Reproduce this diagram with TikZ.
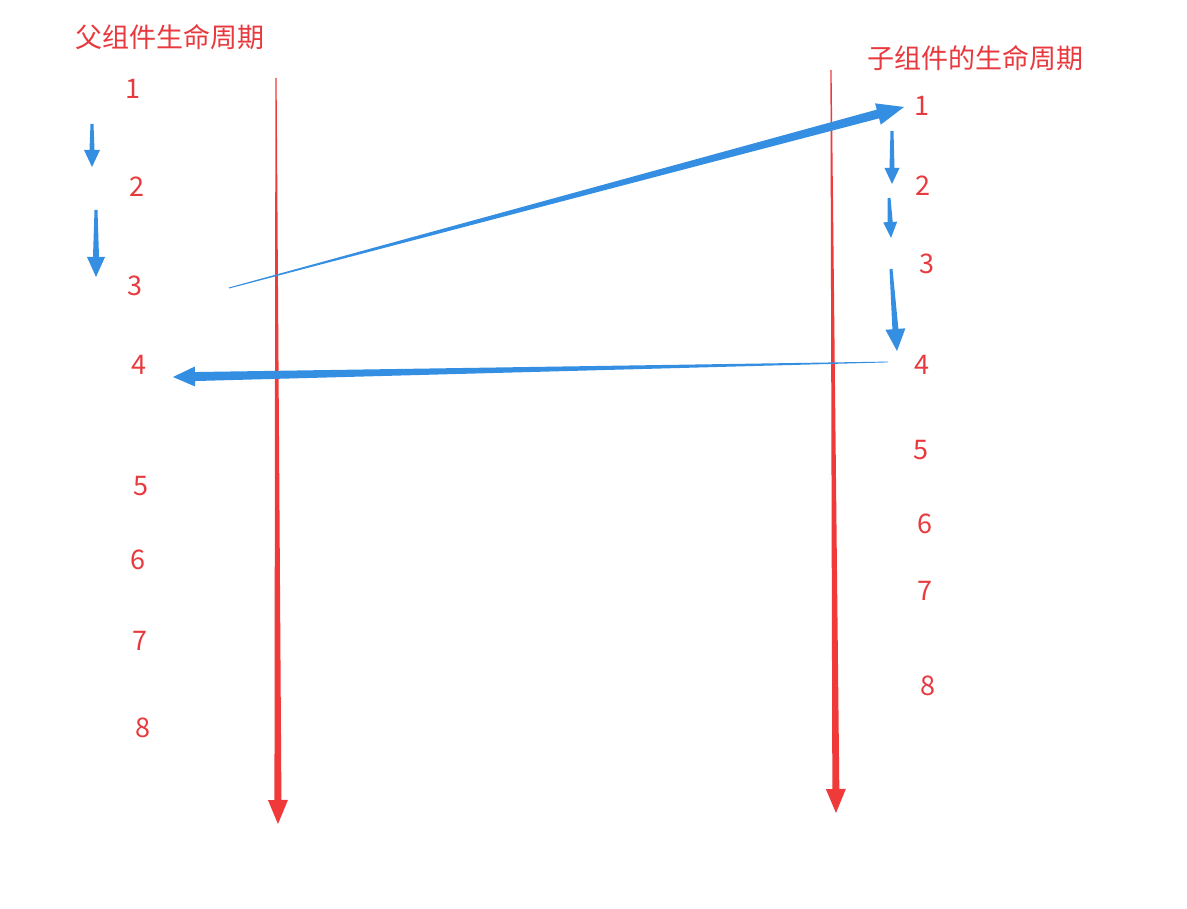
\documentclass[tikz,border=0pt]{standalone}
\usepackage{fontspec}
\setmainfont{Noto Sans CJK SC}
\usetikzlibrary{calc}
\definecolor{txtred}{RGB}{232,58,62}
\definecolor{arrred}{RGB}{240,58,58}
\definecolor{arrblue}{RGB}{52,142,226}
\tikzset{lbl/.style={text=txtred,font=\fontsize{27}{27}\selectfont,inner sep=0pt}}
% tapered arrow: #1 tail, #2 tip, #3 tail width, #4 shaft width, #5 head length, #6 head width, #7 colour
\newcommand\taperarrow[7]{%
  \coordinate (hb) at ($(#2)!#5!(#1)$);
  \fill[#7] ($(#1)!#3/2!90:(#2)$) -- ($(hb)!#4/2!90:(#2)$) -- ($(hb)!#6/2!90:(#2)$) -- (#2)
    -- ($(hb)!#6/2!-90:(#2)$) -- ($(hb)!#4/2!-90:(#2)$) -- ($(#1)!#3/2!-90:(#2)$) -- cycle;}
\begin{document}
\begin{tikzpicture}[x=1pt,y=-1pt]
\useasboundingbox[fill=white] (0,0) rectangle (1187,909);
% titles
\node[lbl] (pt) at (170,37) {父组件生命周期};
\node[lbl] (ct) at (975,58) {子组件的生命周期};
% parent numbers
\node[lbl] (p1) at (133,89) {1};
\node[lbl] (p2) at (137,187) {2};
\node[lbl] (p3) at (135,286) {3};
\node[lbl] (p4) at (139,365) {4};
\node[lbl] (p5) at (141,486) {5};
\node[lbl] (p6) at (138,560) {6};
\node[lbl] (p7) at (140,641) {7};
\node[lbl] (p8) at (143,728) {8};
% child numbers
\node[lbl] (c1) at (922,106) {1};
\node[lbl] (c2) at (923,186) {2};
\node[lbl] (c3) at (927,264) {3};
\node[lbl] (c4) at (922,365) {4};
\node[lbl] (c5) at (921,450) {5};
\node[lbl] (c6) at (925,524) {6};
\node[lbl] (c7) at (925,591) {7};
\node[lbl] (c8) at (928,686) {8};
% coordinates
\coordinate (lrT) at (276,78);  \coordinate (lrH) at (278,824);
\coordinate (rrT) at (831,70);  \coordinate (rrH) at (836,813);
\coordinate (b1T) at (229,288); \coordinate (b1H) at (904,107);
\coordinate (b2T) at (888,362); \coordinate (b2H) at (173,377);
\coordinate (s1T) at (92,124);  \coordinate (s1H) at (92,167);
\coordinate (s2T) at (96,210);  \coordinate (s2H) at (96,277);
\coordinate (s3T) at (892,131); \coordinate (s3H) at (892,184);
\coordinate (s4T) at (889,198); \coordinate (s4H) at (891,238);
\coordinate (s5T) at (891,269); \coordinate (s5H) at (897,351);
% red lifelines
\taperarrow{lrT}{lrH}{1.2pt}{7pt}{24pt}{20pt}{arrred}
\taperarrow{rrT}{rrH}{1.2pt}{7pt}{24pt}{20pt}{arrred}
% blue cross arrows
\taperarrow{b1T}{b1H}{1pt}{9pt}{27pt}{22pt}{arrblue}
\taperarrow{b2T}{b2H}{0.8pt}{9pt}{22pt}{20pt}{arrblue}
% small blue arrows
\taperarrow{s1T}{s1H}{3pt}{5pt}{17pt}{16pt}{arrblue}
\taperarrow{s2T}{s2H}{3pt}{6pt}{20pt}{18pt}{arrblue}
\taperarrow{s3T}{s3H}{3pt}{5pt}{16pt}{15pt}{arrblue}
\taperarrow{s4T}{s4H}{3pt}{5pt}{16pt}{14pt}{arrblue}
\taperarrow{s5T}{s5H}{3pt}{6pt}{22pt}{20pt}{arrblue}
\end{tikzpicture}
\end{document}
